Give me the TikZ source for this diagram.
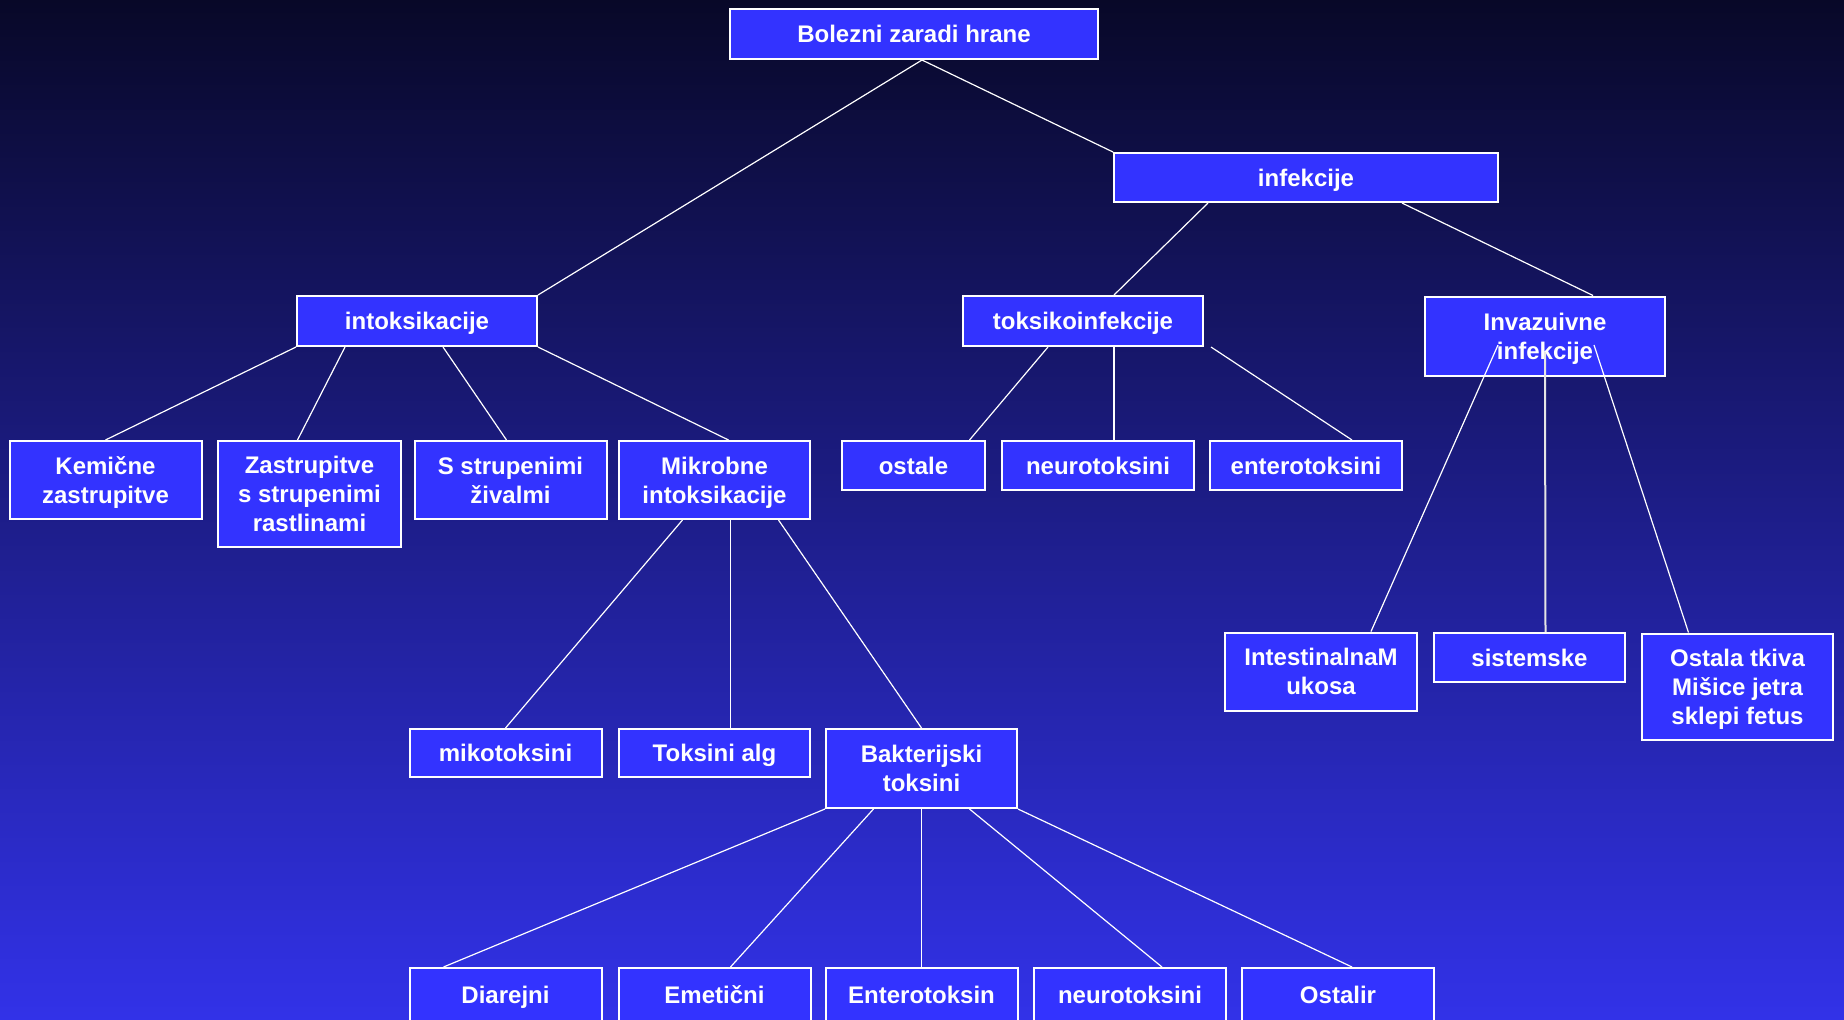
\documentclass[tikz,border=0pt]{standalone}
\usepackage{fontspec}
\setmainfont{Liberation Sans}

\definecolor{boxblue}{RGB}{51,51,255}
\definecolor{bgtop}{RGB}{8,8,40}
\definecolor{bgmid}{RGB}{28,28,128}
\definecolor{bgbot}{RGB}{50,50,232}

\tikzset{
  box/.style={draw=white, line width=1pt, fill=boxblue, text=white,
    font=\fontsize{12}{14.5}\selectfont\bfseries, align=center,
    inner sep=0pt, text depth=0pt, minimum width=96pt, minimum height=24.5pt},
  two/.style={minimum height=39pt},
  three/.style={minimum height=53pt},
  link/.style={draw=white, line width=0.6pt},
  thicklink/.style={draw=white!80!gray, line width=1pt}
}

\begin{document}
\begin{tikzpicture}[x=0.5pt, y=-0.5pt]
% background
\useasboundingbox (0,0) rectangle (1844,1019);
\clip (0,0) rectangle (1844,1019);
\shade[top color=bgtop, middle color=bgmid, bottom color=bgbot] (0,0) rectangle (1844,1019);

% create the nodes
\node[box, minimum width=184pt, minimum height=25pt] (root) at (914,34) {Bolezni zaradi hrane};
\node[box, minimum width=192pt] (inf) at (1306,177.5) {infekcije};
\node[box, minimum width=120pt, minimum height=25pt] (intox) at (417,321) {intoksikacije};
\node[box, minimum width=120pt, minimum height=25pt] (toxinf) at (1083,321) {toksikoinfekcije};
\node[box, minimum width=120pt, minimum height=39.5pt] (inv) at (1545,336) {Invazuivne\\infekcije};

\node[box, two] (kem) at (105.5,480) {Kemične\\zastrupitve};
\node[box, three, minimum width=91.5pt] (rast) at (309.5,494) {Zastrupitve\\s strupenimi\\rastlinami};
\node[box, two] (ziv) at (510.5,480) {S strupenimi\\živalmi};
\node[box, two, minimum width=95.5pt] (mikr) at (714.5,480) {Mikrobne\\intoksikacije};

\node[box, minimum width=71.5pt] (ostale) at (913.5,465.5) {ostale};
\node[box] (neuro) at (1098,465.5) {neurotoksini};
\node[box] (entero) at (1306,465.5) {enterotoksini};

\node[box, two, minimum width=96pt] (intest) at (1321,671.5) {IntestinalnaM\\ukosa};
\node[box, minimum width=95.5pt] (sist) at (1529.5,657.5) {sistemske};
\node[box, three, minimum width=95.5pt] (tkiva) at (1737.5,686.5) {Ostala tkiva\\Mišice jetra\\sklepi fetus};

\node[box, minimum height=24pt] (miko) at (505.5,753) {mikotoksini};
\node[box, minimum height=24pt, minimum width=95.5pt] (alg) at (714.5,753) {Toksini alg};
\node[box, minimum height=39.5pt, minimum width=95.5pt] (bakt) at (921.5,768.5) {Bakterijski\\toksini};

% bottom row, cut by the page edge
\foreach \n/\x/\t in {dia/505.5/Diarejni, emet/714.5/Emetični, ent/921.5/Enterotoksin,
                      neur/1130/neurotoksini, ost/1338/Ostalir}
  \node[box, minimum height=27pt] (\n) at (\x,995) {\t};

% connect them
\draw[link] ([xshift=4pt]root.south) -- (intox.north east);
\draw[link] ([xshift=4pt]root.south) -- (inf.north west);

\draw[link] ([xshift=-49pt]inf.south) -- ([xshift=15.5pt]toxinf.north);
\draw[link] ([xshift=48pt]inf.south) -- ([xshift=24pt]inv.north);

\draw[link] (intox.south west) -- (kem.north);
\draw[link] ([xshift=-36pt]intox.south) -- ([xshift=-6pt]rast.north);
\draw[link] ([xshift=13pt]intox.south) -- ([xshift=-2pt]ziv.north);
\draw[link] (intox.south east) -- ([xshift=7pt]mikr.north);

\draw[link] ([xshift=-17.5pt]toxinf.south) -- ([xshift=28pt]ostale.north);
\draw[link] ([xshift=15.5pt]toxinf.south) -- ([xshift=8pt]neuro.north);
\draw[link] ([xshift=3.5pt]toxinf.south east) -- ([xshift=23pt]entero.north);

\draw[link] ([shift={(-23.5pt,-4.5pt)}]inv.center) -- ([xshift=25pt]intest.north);
\draw[thicklink] ([yshift=-8pt]inv.center) -- ([xshift=8pt]sist.north);
\draw[link] ([shift={(24.5pt,-4.5pt)}]inv.center) -- ([xshift=-24.5pt]tkiva.north);

\draw[link] ([xshift=-16pt]mikr.south) -- (miko.north);
\draw[link] ([xshift=8pt]mikr.south) -- ([xshift=8pt]alg.north);
\draw[link] ([xshift=32pt]mikr.south) -- (bakt.north);

\draw[link] (bakt.south west) -- ([xshift=-31pt]dia.north);
\draw[link] ([xshift=-24pt]bakt.south) -- ([xshift=8pt]emet.north);
\draw[link] (bakt.south) -- (ent.north);
\draw[link] ([xshift=24pt]bakt.south) -- ([xshift=16pt]neur.north);
\draw[link] (bakt.south east) -- ([xshift=7pt]ost.north);

\end{tikzpicture}
\end{document}
